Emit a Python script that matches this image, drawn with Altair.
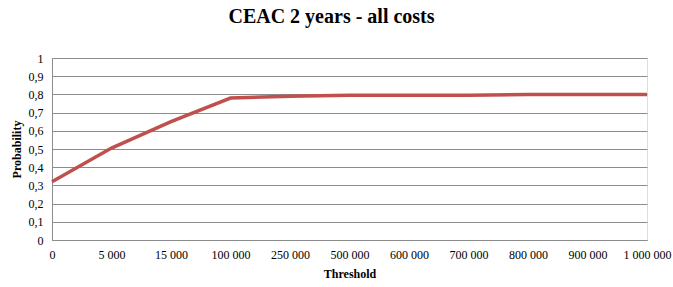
import altair as alt
import pandas as pd

thresholds = ["0", "5 000", "15 000", "100 000", "250 000", "500 000",
              "600 000", "700 000", "800 000", "900 000", "1 000 000"]
probability = [0.32, 0.505, 0.65, 0.78, 0.79, 0.795, 0.795, 0.795, 0.80, 0.80, 0.80]

df = pd.DataFrame({"Threshold": thresholds, "Probability": probability})

FONT = "Times New Roman, Liberation Serif, serif"

chart = alt.Chart(df).mark_line(color="#C0504D", strokeWidth=3.5).encode(
    x=alt.X("Threshold:N", sort=thresholds,
            scale=alt.Scale(type="point", padding=0),
            axis=alt.Axis(title="Threshold", labelAngle=0, ticks=False,
                          grid=False, domainColor="#8C8C8C",
                          labelFont=FONT, labelFontSize=12, labelColor="#000",
                          labelPadding=9, titleFont=FONT, titleFontSize=12,
                          titleFontWeight="bold", titleColor="#000",
                          titlePadding=8)),
    y=alt.Y("Probability:Q", scale=alt.Scale(domain=[0, 1]),
            axis=alt.Axis(title="Probability", values=[i / 10 for i in range(11)],
                          labelExpr="datum.value == 0 ? '0' : datum.value == 1 ? '1' : replace(format(datum.value, '.1f'), '.', ',')",
                          ticks=False, gridColor="#8C8C8C", gridWidth=1,
                          domainColor="#8C8C8C",
                          labelFont=FONT, labelFontSize=12, labelColor="#000",
                          labelPadding=9, titleFont=FONT, titleFontSize=12,
                          titleFontWeight="bold", titleColor="#000",
                          titlePadding=5)),
).properties(
    width=595, height=182,
    title=alt.TitleParams("CEAC 2 years - all costs", font=FONT, fontSize=20,
                          fontWeight="bold", color="#000", offset=25, dx=-18),
    autosize=alt.AutoSizeParams(type="none"),
    padding={"left": 52, "top": 58, "right": 26, "bottom": 47},
).configure_view(stroke=None).configure(background="white")

chart.save("out.html", embed_options={"renderer": "svg", "actions": False})
